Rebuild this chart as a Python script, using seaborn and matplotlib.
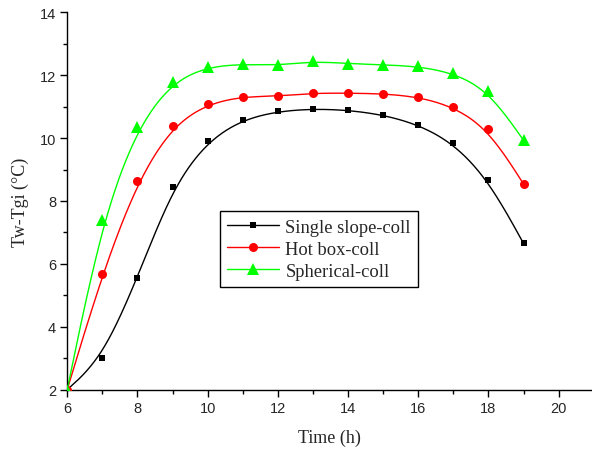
import numpy as np
import pandas as pd
import matplotlib
matplotlib.use("Agg")
import matplotlib.pyplot as plt
import seaborn as sns
from matplotlib.lines import Line2D
from matplotlib.ticker import MultipleLocator

# data
hours = [6, 7, 8, 9, 10, 11, 12, 13, 14, 15, 16, 17, 18, 19]
single_slope = [2.0, 3.01, 5.55, 8.43, 9.91, 10.59, 10.85, 10.93, 10.89, 10.74, 10.43, 9.84, 8.67, 6.65]
hot_box = [2.0, 5.69, 8.63, 10.39, 11.09, 11.32, 11.33, 11.43, 11.43, 11.41, 11.31, 11.00, 10.28, 8.54]
spherical = [2.0, 7.39, 10.35, 11.79, 12.27, 12.35, 12.31, 12.44, 12.37, 12.33, 12.28, 12.07, 11.51, 9.93]

series = [
    ("Single slope-coll", single_slope, "black", "s", 5),
    ("Hot box-coll", hot_box, "#ff0000", "o", 6.5),
    ("Spherical-coll", spherical, "#00ff00", "^", 8),
]

SERIF = "Liberation Serif"
SANS = "Liberation Sans"


def bspline(x, y, n=40):
    """Clamped uniform cubic B-spline using the points as control points."""
    px = np.r_[x[0], x[0], x, x[-1], x[-1]].astype(float)
    py = np.r_[y[0], y[0], y, y[-1], y[-1]].astype(float)
    t = np.linspace(0, 1, n)
    b0 = (1 - t) ** 3 / 6
    b1 = (3 * t**3 - 6 * t**2 + 4) / 6
    b2 = (-3 * t**3 + 3 * t**2 + 3 * t + 1) / 6
    b3 = t**3 / 6
    cx, cy = [], []
    for i in range(len(px) - 3):
        cx.append(b0 * px[i] + b1 * px[i + 1] + b2 * px[i + 2] + b3 * px[i + 3])
        cy.append(b0 * py[i] + b1 * py[i + 1] + b2 * py[i + 2] + b3 * py[i + 3])
    return np.concatenate(cx), np.concatenate(cy)


sns.set_style("ticks")
fig = plt.figure(figsize=(5.92, 4.52), dpi=100)
ax = fig.add_axes([0.1135, 0.1356, 0.8865, 0.835])

handles = []
for name, vals, color, marker, ms in series:
    cx, cy = bspline(np.array(hours), np.array(vals))
    curve = pd.DataFrame({"x": cx, "y": cy})
    sns.lineplot(data=curve, x="x", y="y", sort=False, color=color, linewidth=1.0, ax=ax)
    pts = pd.DataFrame({"x": hours, "y": vals})
    ax.plot(pts["x"], pts["y"], linestyle="none", marker=marker, markersize=ms,
            color=color, markeredgewidth=0, zorder=3)
    handles.append(Line2D([], [], color=color, linewidth=1.0, marker=marker,
                          markersize=ms, markeredgewidth=0, label=name))

ax.set_xlim(6, 20.95)
ax.set_ylim(2, 14)
ax.xaxis.set_major_locator(MultipleLocator(2))
ax.xaxis.set_minor_locator(MultipleLocator(1))
ax.yaxis.set_major_locator(MultipleLocator(2))
ax.yaxis.set_minor_locator(MultipleLocator(1))
ax.tick_params(which="major", direction="out", length=5, width=1, color="black",
               labelsize=10.5, pad=3)
ax.tick_params(which="minor", direction="out", length=3, width=1, color="black")
for lab in ax.get_xticklabels() + ax.get_yticklabels():
    lab.set_family(SANS)

for side in ["top", "right"]:
    ax.spines[side].set_visible(False)
for side in ["left", "bottom"]:
    ax.spines[side].set_color("black")
    ax.spines[side].set_linewidth(1)

ax.set_xlabel("Time (h)", family=SERIF, fontsize=13, labelpad=10)
ax.set_ylabel("Tw-Tgi (°C)", family=SERIF, fontsize=13, labelpad=8)

leg = ax.legend(handles=handles, loc="upper left", bbox_to_anchor=(0.291, 0.473),
                borderaxespad=0, frameon=True, fancybox=False, framealpha=1,
                edgecolor="black", handlelength=2.8, labelspacing=0.28,
                handletextpad=0.35, borderpad=0.4,
                prop={"family": SERIF, "size": 13.3})
leg.get_frame().set_linewidth(1)

fig.savefig("out.png", dpi=100)
